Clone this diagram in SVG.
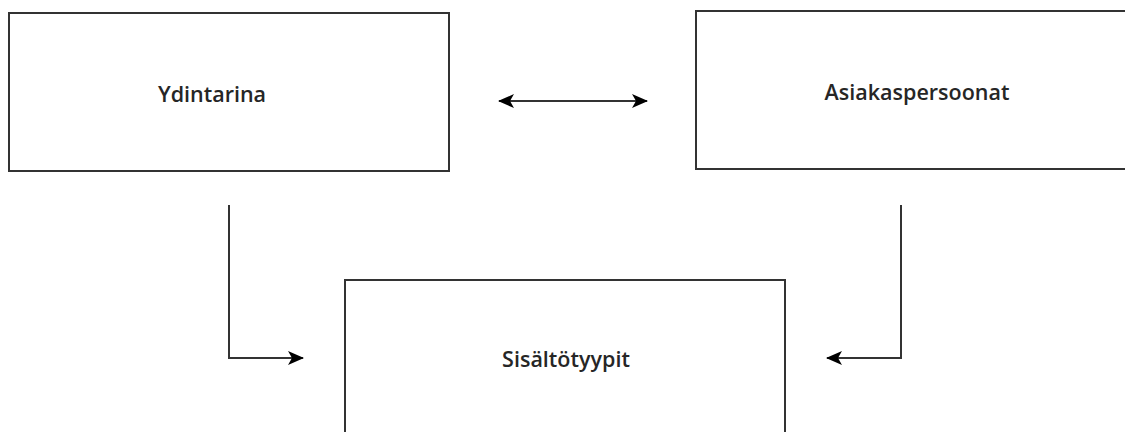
<svg xmlns="http://www.w3.org/2000/svg" width="1125" height="432" viewBox="0 0 1125 432">
  <style>
    .box { fill: #ffffff; stroke: #333333; stroke-width: 2; }
    .label { font-family: "Open Sans", "Noto Sans", sans-serif; font-size: 21.5px; font-weight: 600; fill: #262626; text-anchor: middle; }
    .wire { fill: none; stroke: #333333; stroke-width: 2; }
  </style>
  <defs>
    <marker id="head" viewBox="0 0 16 14" refX="15" refY="7" markerWidth="16" markerHeight="14" markerUnits="userSpaceOnUse" orient="auto-start-reverse">
      <path d="M0,0 L16,7 L0,14 L4,7 Z" fill="#000000"/>
    </marker>
  </defs>
  <rect width="1125" height="432" fill="#ffffff"/>

  <g id="ydintarina">
    <rect class="box" x="9" y="13" width="440" height="158"/>
    <text class="label" x="212" y="102">Ydintarina</text>
  </g>

  <g id="asiakaspersoonat">
    <rect class="box" x="696" y="11" width="440" height="158"/>
    <text class="label" x="917" y="100">Asiakaspersoonat</text>
  </g>

  <g id="sisaltotyypit">
    <rect class="box" x="345" y="280" width="440" height="170"/>
    <text class="label" x="566" y="367">Sisältötyypit</text>
  </g>

  <g id="connectors">
    <line class="wire" x1="499" y1="101" x2="647" y2="101" marker-start="url(#head)" marker-end="url(#head)"/>
    <polyline class="wire" points="229,205 229,358 303,358" marker-end="url(#head)"/>
    <polyline class="wire" points="901,205 901,358 827,358" marker-end="url(#head)"/>
  </g>
</svg>
